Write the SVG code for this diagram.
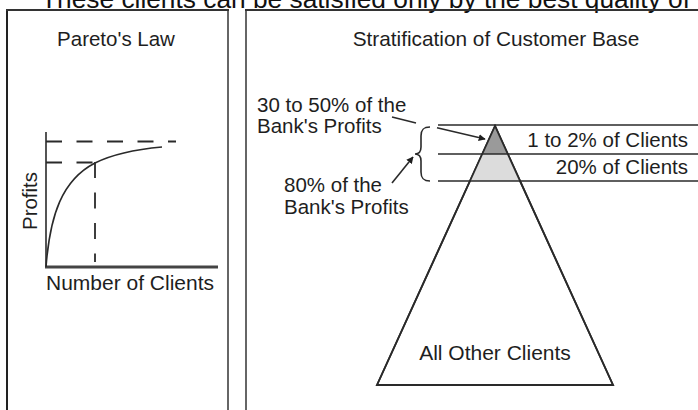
<svg xmlns="http://www.w3.org/2000/svg" width="698" height="410" viewBox="0 0 698 410">
<defs>
<style>
text{font-family:"Liberation Sans",Arial,sans-serif;fill:#1e1e1e;font-size:20.5px}
.frame{fill:none;stroke:#444;stroke-width:2}
.ln{fill:none;stroke:#2a2a2a;stroke-width:1.6}
.dash{fill:none;stroke:#2a2a2a;stroke-width:1.8;stroke-dasharray:16 14.5}
</style>
<marker id="ah" viewBox="0 0 10 10" refX="9" refY="5" markerWidth="7" markerHeight="7" orient="auto" markerUnits="userSpaceOnUse">
<path d="M0,0 L10,5 L0,10 Z" fill="#1e1e1e"/>
</marker>
</defs>
<rect width="698" height="410" fill="#fff"/>
<text x="41" y="8" style="font-size:26.3px;fill:#111">These clients can be satisfied only by the best quality of</text>

<g id="pareto-panel">
<line x1="7" y1="10" x2="7" y2="410" stroke="#222" stroke-width="2"/>
<line x1="228" y1="10" x2="228" y2="410" stroke="#666" stroke-width="2"/>
<line x1="6" y1="10" x2="229" y2="10" stroke="#333" stroke-width="2"/>
<text x="116" y="46" text-anchor="middle">Pareto's Law</text>
<line x1="46" y1="132" x2="46" y2="268" class="ln" stroke-width="2"/>
<line x1="45" y1="267" x2="218" y2="267" stroke="#444" stroke-width="3"/>
<line x1="46" y1="141.5" x2="176" y2="141.5" class="dash"/>
<line x1="46" y1="162.5" x2="95" y2="162.5" class="dash"/>
<line x1="95" y1="162" x2="95" y2="262" class="dash" stroke-dasharray="0 16 16 16 16 16 16 16"/>
<path d="M46,267 C50,215 62,180 95,163 C115,153 140,149 162,147" class="ln" stroke-width="1.8"/>
<text transform="translate(37,201) rotate(-90)" text-anchor="middle">Profits</text>
<text x="46" y="290" style="font-size:21px">Number of Clients</text>
</g>

<g id="strat-panel">
<line x1="246" y1="10" x2="246" y2="410" stroke="#666" stroke-width="2"/>
<line x1="245" y1="10" x2="698" y2="10" stroke="#333" stroke-width="2"/>
<text x="496" y="46" text-anchor="middle" style="font-size:20.8px">Stratification of Customer Base</text>
</g>

<g id="pyramid">
<polygon points="495,126 377,385 613,385" fill="#fff" stroke="#2a2a2a" stroke-width="1.8"/>
<polygon points="495,126 482.2,154 507.8,154" fill="#9a9a9a"/>
<polygon points="482.2,154 507.8,154 520.4,181 469.6,181" fill="#dcdcdc"/>
<polygon points="495,126 377,385 613,385" fill="none" stroke="#2a2a2a" stroke-width="1.8"/>
<text x="495" y="360" text-anchor="middle" style="font-size:21px">All Other Clients</text>
</g>

<g id="bands">
<line x1="438" y1="125" x2="698" y2="125" class="ln"/>
<line x1="438" y1="154" x2="698" y2="154" class="ln"/>
<line x1="438" y1="181" x2="698" y2="181" class="ln"/>
<text x="688" y="147" text-anchor="end">1 to 2% of Clients</text>
<text x="688" y="174" text-anchor="end">20% of Clients</text>
</g>

<g id="labels">
<text x="257" y="112">30 to 50% of the</text>
<text x="257" y="133">Bank's Profits</text>
<text x="284" y="192">80% of the</text>
<text x="284" y="214">Bank's Profits</text>
</g>

<g id="brace">
<path d="M430,127 C423,127 421,130 421,136 L421,147 C421,152 419,154 415,154 C419,154 421,156 421,161 L421,172 C421,178 423,181 430,181" class="ln" stroke-width="1.6"/>
</g>

<g id="connectors">
<line x1="392" y1="117" x2="416" y2="123" class="ln" stroke-width="1.5"/>
<line x1="437" y1="127.7" x2="485" y2="139" class="ln" stroke-width="1.5" marker-end="url(#ah)"/>
<line x1="392" y1="183" x2="413" y2="157" class="ln" stroke-width="1.5" marker-end="url(#ah)"/>
</g>
</svg>
